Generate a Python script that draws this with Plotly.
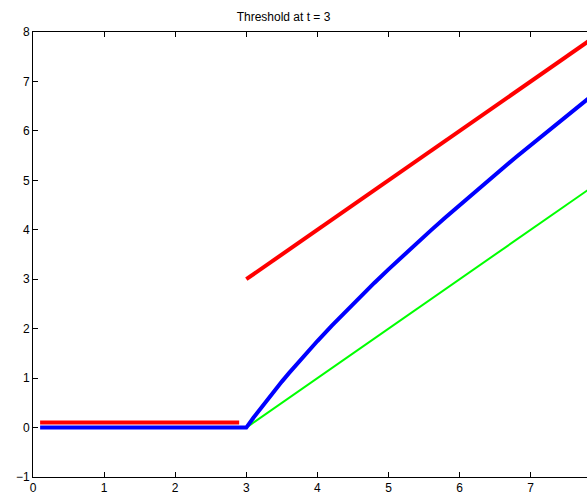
import plotly.graph_objects as go

# Thresholding rules at t = 3
hard_low_x = [0.1, 2.9]
hard_low_y = [0.1, 0.1]
hard_high_x = [3, 8]
hard_high_y = [3, 8]

garrote_x = [0.1, 3.0, 3.1, 3.2, 3.3, 3.4, 3.5, 3.6, 3.8, 4.0, 4.2, 4.4, 4.6,
             4.8, 5.0, 5.2, 5.4, 5.6, 5.8, 6.0, 6.2, 6.4, 6.6, 6.8, 7.0, 7.2,
             7.4, 7.6, 7.8, 8.0]
garrote_y = [0, 0, 0.197, 0.388, 0.573, 0.753, 0.929, 1.100, 1.432, 1.750,
             2.057, 2.355, 2.643, 2.925, 3.200, 3.469, 3.733, 3.993, 4.248,
             4.500, 4.748, 4.994, 5.236, 5.476, 5.714, 5.950, 6.184, 6.416,
             6.646, 6.875]

soft_x = [3, 8]
soft_y = [0, 5]

x_ticks = [0, 1, 2, 3, 4, 5, 6, 7, 8]
y_ticks = [-1, 0, 1, 2, 3, 4, 5, 6, 7, 8]

fig = go.Figure()
fig.add_trace(go.Scatter(x=soft_x, y=soft_y, mode="lines",
                         line=dict(color="#00FF00", width=2)))
fig.add_trace(go.Scatter(x=garrote_x, y=garrote_y, mode="lines",
                         line=dict(color="#0000FF", width=4)))
fig.add_trace(go.Scatter(x=hard_low_x, y=hard_low_y, mode="lines",
                         line=dict(color="#FF0000", width=4)))
fig.add_trace(go.Scatter(x=hard_high_x, y=hard_high_y, mode="lines",
                         line=dict(color="#FF0000", width=4)))

L, T, B = 33, 32, 15
W, H = 587, 495
fig.update_layout(
    width=W, height=H,
    margin=dict(l=L, r=0, t=T, b=B),
    paper_bgcolor="white", plot_bgcolor="white",
    showlegend=False,
    font=dict(family="Liberation Sans, Arial, sans-serif", size=12, color="black"),
    title=dict(text="Threshold at t = 3", x=(283.5 - L) / (W - L), xref="paper",
               xanchor="center", y=1 - 17 / H, yanchor="middle",
               font=dict(size=12, color="black")),
)
fig.update_xaxes(range=[0, (W - L) / 71.1], tickvals=x_ticks, ticks="inside",
                 ticklen=5, tickcolor="black", showline=True, linecolor="black",
                 linewidth=1, mirror="ticks", showgrid=False, zeroline=False)
fig.update_yaxes(range=[-1, 8], tickvals=y_ticks, ticks="inside", ticklen=5,
                 tickcolor="black", showline=True, linecolor="black", linewidth=1,
                 showgrid=False, zeroline=False)

fig.write_html("out.html")
